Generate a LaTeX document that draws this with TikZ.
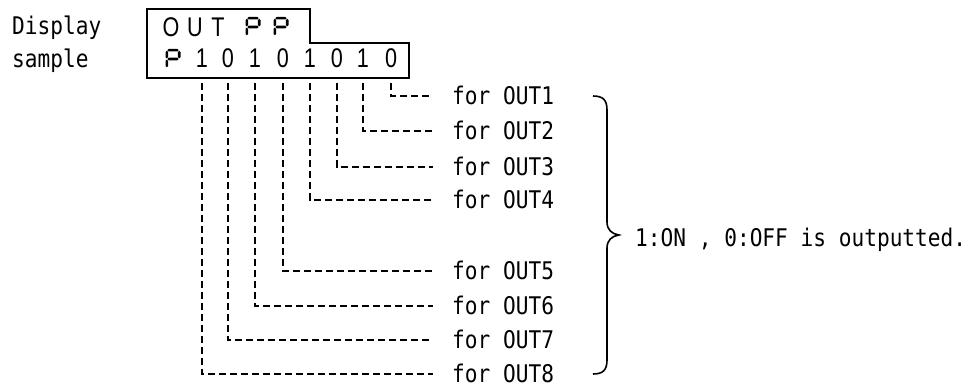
\documentclass[tikz,border=0pt]{standalone}
\usepackage{fontspec}
\newfontfamily\monof[FakeStretch=0.87]{DejaVu Sans Mono}
\newfontfamily\dispf[FakeStretch=0.8]{Liberation Sans}
\newcommand\hsegP[3]{\fill (#1+0.6,#3) -- (#1+1.9,#3-1.3) -- (#2-1.9,#3-1.3) -- (#2-0.6,#3) -- (#2-1.9,#3+1.3) -- (#1+1.9,#3+1.3) -- cycle;}
\newcommand\vsegP[3]{\fill (#1,#2+0.6) -- (#1+1.3,#2+1.9) -- (#1+1.3,#3-1.9) -- (#1,#3-0.6) -- (#1-1.3,#3-1.9) -- (#1-1.3,#2+1.9) -- cycle;}
\begin{document}
\begin{tikzpicture}[x=1pt,y=-1pt,
  lbl/.style={font=\monof\fontsize{24.3}{28}\selectfont, inner sep=0pt, anchor=base west},
  outlbl/.style={font=\monof\fontsize{24.3}{28}\selectfont, inner sep=0pt, anchor=west, text height=17pt, text depth=0pt},
  disp/.style={font=\dispf\fontsize{27}{32}\selectfont, inner sep=0pt, text height=19pt, text depth=0pt, anchor=base},
  conn/.style={line width=2pt, dash pattern=on 7pt off 4pt, shorten <=15pt, shorten >=19pt},
  outline/.style={line width=2pt, line join=miter},
  bracel/.style={line width=1.6pt},
  sevenP/.pic={
    \hsegP{-6.2}{6.2}{-8.8}
    \hsegP{-6.2}{6.2}{0}
    \vsegP{-6.2}{-8.8}{0}
    \vsegP{-6.2}{0}{8.8}
    \vsegP{6.2}{-8.8}{0}
  }]
\useasboundingbox (0,0) rectangle (973,387);

% left labels
\node[lbl] (disp) at (12,35) {Display};
\node[lbl] (samp) at (12,68) {sample};

% display outline
\draw[outline] (147,9) -- (310,9) -- (310,43) -- (409,43) -- (409,78) -- (147,78) -- cycle;

% row 1
\node[disp] (cO) at (171,37) {O};
\node[disp] (cU) at (195,37) {U};
\node[disp] (cT) at (218,37) {T};
\pic at (253,27) {sevenP};
\pic at (281,27) {sevenP};

% row 2
\pic at (173,59) {sevenP};
\node[disp] (d8) at (202,68) {1};
\node[disp] (d7) at (228,68) {0};
\node[disp] (d6) at (255,68) {1};
\node[disp] (d5) at (283,68) {0};
\node[disp] (d4) at (310,68) {1};
\node[disp] (d3) at (337,68) {0};
\node[disp] (d2) at (363,68) {1};
\node[disp] (d1) at (391,68) {0};

% output labels
\node[outlbl] (l1) at (452,96) {for OUT1};
\node[outlbl] (l2) at (452,131) {for OUT2};
\node[outlbl] (l3) at (452,167) {for OUT3};
\node[outlbl] (l4) at (452,200) {for OUT4};
\node[outlbl] (l5) at (452,271) {for OUT5};
\node[outlbl] (l6) at (452,306) {for OUT6};
\node[outlbl] (l7) at (452,340) {for OUT7};
\node[outlbl] (l8) at (452,374) {for OUT8};

% connectors
\foreach \i in {1,...,8}{
  \draw[conn] (d\i.south) |- (l\i.west);
}

% brace
\draw[bracel] (593,96) .. controls (603,96) and (607,100) .. (607,110) -- (607,222)
  .. controls (607,230) and (612,234) .. (619,235)
  .. controls (612,236) and (607,240) .. (607,248) -- (607,360)
  .. controls (607,370) and (603,374) .. (593,374);

\node[lbl] (res) at (635,246) {1:ON , 0:OFF is outputted.};
\end{tikzpicture}
\end{document}
